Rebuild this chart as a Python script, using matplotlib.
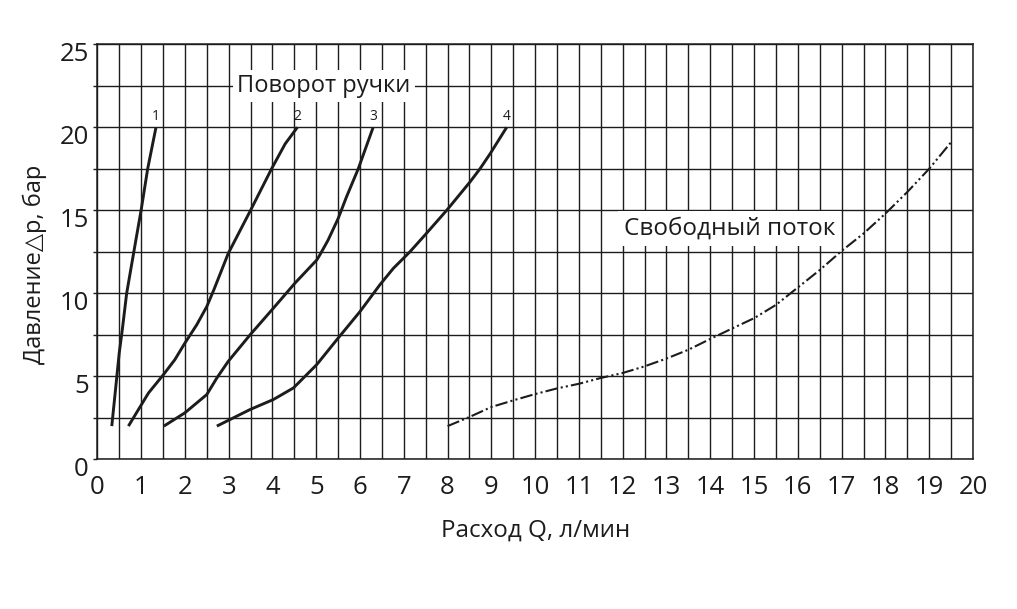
import matplotlib.pyplot as plt
import matplotlib.transforms as mtransforms
import numpy as np

plt.rcParams['font.family'] = ['Open Sans', 'DejaVu Sans']

# curves: flow Q (l/min) vs pressure drop (bar)
q1 = [0.33, 0.40, 0.50, 0.57, 0.67, 0.88, 1.00, 1.15, 1.34]
p1 = [2.0, 3.8, 6.4, 7.8, 10.0, 13.2, 15.0, 17.5, 20.0]

q2 = [0.71, 1.17, 1.51, 1.77, 2.00, 2.27, 2.50, 2.66, 2.99, 3.50, 3.98, 4.29, 4.57]
p2 = [2.0, 4.0, 5.1, 6.0, 7.0, 8.1, 9.2, 10.2, 12.4, 15.0, 17.5, 19.0, 20.0]

q3 = [1.52, 2.00, 2.50, 2.73, 2.99, 3.49, 4.02, 4.51, 5.01, 5.08, 5.27, 5.50, 5.69, 5.96, 6.30]
p3 = [2.0, 2.8, 3.9, 4.9, 5.9, 7.5, 9.1, 10.6, 12.0, 12.3, 13.2, 14.5, 15.8, 17.5, 20.0]

q4 = [2.73, 3.49, 4.02, 4.48, 5.01, 5.50, 6.00, 6.45, 6.76, 7.14, 7.48, 7.98, 8.51, 8.74, 8.97, 9.35]
p4 = [2.0, 3.0, 3.6, 4.3, 5.7, 7.3, 8.9, 10.5, 11.5, 12.5, 13.5, 15.0, 16.7, 17.5, 18.4, 20.0]

q_free = [8.0, 8.5, 9.0, 9.5, 10.0, 10.5, 11.0, 11.5, 12.0, 12.5, 13.0, 13.5, 14.0,
          14.5, 15.0, 15.5, 16.0, 16.5, 17.0, 17.5, 18.0, 18.5, 19.0, 19.5]
p_free = [2.0, 2.55, 3.15, 3.55, 3.93, 4.27, 4.55, 4.9, 5.2, 5.6, 6.07, 6.6, 7.25,
          7.88, 8.5, 9.3, 10.35, 11.4, 12.55, 13.6, 14.8, 16.1, 17.5, 19.1]

curve_labels = ['1', '2', '3', '4']

ink = '#1c1c1c'

fig = plt.figure(figsize=(10.17, 6.09), dpi=100)
ax = fig.add_axes([0.0957, 0.2458, 0.8610, 0.6815])

ax.set_xlim(0, 20)
ax.set_ylim(0, 25)

# grid: every 0.5 along Q, every 2.5 along p
ax.set_xticks(np.arange(0, 21, 1))
ax.set_xticks(np.arange(0.5, 20, 1), minor=True)
ax.set_yticks(np.arange(0, 26, 5))
ax.set_yticks(np.arange(2.5, 25, 5), minor=True)
ax.grid(True, which='both', color=ink, linewidth=1.0)
ax.set_axisbelow(True)

for s in ax.spines.values():
    s.set_color(ink)
    s.set_linewidth(1.1)

ax.tick_params(axis='x', which='both', length=0, pad=11, labelsize=18.5, labelcolor=ink)
ax.tick_params(axis='y', which='both', direction='out', length=3, width=1.0,
               color=ink, pad=3, labelsize=18.5, labelcolor=ink)
for lab in ax.get_yticklabels():
    lab.set_transform(lab.get_transform() +
                      mtransforms.ScaledTranslation(0, -5 / 72, fig.dpi_scale_trans))

# handle-turn curves
for q, p, lab in zip([q1, q2, q3, q4], [p1, p2, p3, p4], curve_labels):
    ax.plot(q, p, color=ink, linewidth=2.1, solid_capstyle='butt', zorder=3)
    ax.text(q[-1], p[-1] + 0.2, lab, ha='center', va='bottom', fontsize=10,
            color=ink, zorder=4)

# free flow
ax.plot(q_free, p_free, color=ink, linewidth=1.5,
        linestyle=(0, (6, 1.5, 1, 1.5, 1, 1.5)), zorder=3)

ax.text(5.18, 22.5, 'Поворот ручки', ha='center', va='center', fontsize=17,
        color=ink, zorder=4,
        bbox=dict(facecolor='white', edgecolor='none', pad=3))
ax.text(14.44, 13.9, 'Свободный поток', ha='center', va='center', fontsize=17.5,
        color=ink, zorder=2,
        bbox=dict(facecolor='white', edgecolor='none', pad=4))

ax.set_xlabel('Расход Q, л/мин', fontsize=17.4, color=ink, labelpad=14)
ax.set_ylabel('Давление\u25b3р, бар', fontsize=17, color=ink)
ax.yaxis.set_label_coords(-0.058, 0.47)

fig.savefig('out.png', dpi=100)
